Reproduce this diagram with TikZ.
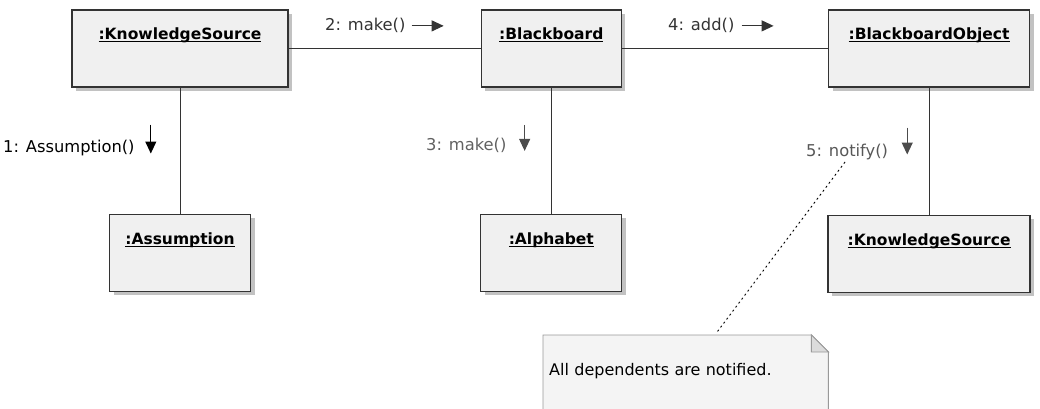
\documentclass[tikz,border=0pt]{standalone}
\usepackage{fontspec}
\setmainfont{DejaVu Sans}
\usepackage{xcolor}
\usetikzlibrary{arrows.meta, positioning, calc, shadows, backgrounds}
\definecolor{boxfill}{HTML}{F0F0F0}
\definecolor{boxline}{HTML}{333333}
\definecolor{notefill}{HTML}{F4F4F4}
\definecolor{noteline}{HTML}{999999}
\newcommand{\objname}[1]{\underline{\smash{#1}}}

\begin{document}
\begin{tikzpicture}[
  x=1pt, y=-1pt,
  node distance=126pt and 192pt,
  object/.style={draw=boxline, line width=1.3pt, fill=boxfill, inner sep=0pt, minimum height=77pt,
    text height=30pt, text depth=47pt, font=\fontsize{15.5}{18}\selectfont\bfseries,
    general shadow={fill=black!24, shadow xshift=4pt, shadow yshift=-4pt}},
  message/.style={inner sep=0pt, anchor=base west, font=\fontsize{16.3}{19}\selectfont},
  link/.style={draw=boxline, line width=1pt},
  flow/.style={-{Triangle[length=12pt, width=11pt]}, line width=1.1pt},
  notebox/.style={inner xsep=6pt, inner ysep=0pt, anchor=north west, text width=273pt, align=left,
    text height=40pt, text depth=40pt, font=\fontsize{16}{19}\selectfont},
  notelink/.style={line width=0.9pt, dash pattern=on 2pt off 3pt}
]
\useasboundingbox (0,0) rectangle (1040,409);
\clip (0,0) rectangle (1040,409);

% objects
\node[object, minimum width=216pt] (ks) at (180,48.5) {\objname{:KnowledgeSource}};
\node[object, minimum width=140pt, right=of ks] (bb) {\objname{:Blackboard}};
\node[object, minimum width=201pt, right=206pt of bb] (bo) {\objname{:BlackboardObject}};
\node[object, minimum width=141pt, below=of ks] (asm) {\objname{:Assumption}};
\node[object, minimum width=141pt, below=of bb] (alp) {\objname{:Alphabet}};
\node[object, minimum width=202pt, below=127pt of bo] (ks2) {\objname{:KnowledgeSource}};

\draw[link] (ks) -- (bb);
\draw[link] (bb) -- (bo);
\draw[link] (ks) -- (asm);
\draw[link] (bb) -- (alp);
\draw[link] (bo) -- (ks2);

% messages
\node[message, text=black] (m1) at (3,152) {1: Assumption()};
\node[message, text=black!80] (m2) at (325,31) {2: make()};
\node[message, text=black!62] (m3) at (426,150) {3: make()};
\node[message, text=black!80] (m4) at (668,31) {4: add()};
\node[message, text=black!66] (m5) at (806,156) {5: notify()};

\draw[flow, black] ($(m1.east)+(16,-23)$) -- ++(0,29);
\draw[flow, black!80] ($(m2.east)+(6,0)$) -- ++(32,0);
\draw[flow, black!70] ($(m3.east)+(18,-20)$) -- ++(0,26);
\draw[flow, black!80] ($(m4.east)+(7,0)$) -- ++(32,0);
\draw[flow, black!70] ($(m5.east)+(19,-24)$) -- ++(0,27);

% note
\node[notebox] (note) at (543,335) {All dependents are notified.};
\begin{scope}[on background layer]
\draw[noteline, fill=notefill, line width=0.9pt] (note.north west) -- ($(note.north east)+(-17,0)$)
  -- ($(note.north east)+(0,17)$) -- (note.south east) -- (note.south west) -- cycle;
\draw[noteline, fill=black!14, line width=0.9pt] ($(note.north east)+(-17,0)$)
  -- ($(note.north east)+(-17,17)$) -- ($(note.north east)+(0,17)$) -- cycle;
\end{scope}
\coordinate (hook) at (845,162);
\draw[notelink] (hook) -- ($(note.north west)!0.61!(note.north east)+(0,-3)$);
\end{tikzpicture}
\end{document}
